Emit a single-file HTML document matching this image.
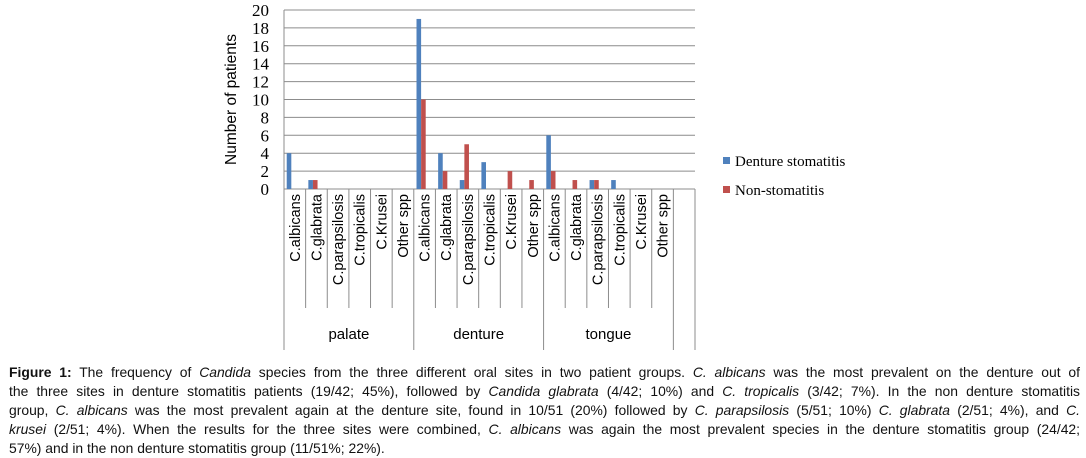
<!DOCTYPE html>
<html><head><meta charset="utf-8">
<style>
body{margin:0;width:1086px;height:458px;background:#fff;overflow:hidden;position:relative;font-family:"Liberation Sans",Arial,sans-serif}
#cap{position:absolute;left:9px;top:363px;width:1071px;font-size:13.9px;line-height:19px;color:#111}
#cap .l{text-align:justify;text-align-last:justify;white-space:nowrap}
#cap .l.last{text-align-last:left}
</style></head><body>
<svg width="1086" height="360" style="position:absolute;left:0;top:0" id="svg"></svg>
<div id="cap">
<div class="l"><b>Figure 1:</b> The frequency of <i>Candida</i> species from the three different oral sites in two patient groups. <i>C. albicans</i> was the most prevalent on the denture out of</div>
<div class="l">the three sites in denture stomatitis patients (19/42; 45%), followed by <i>Candida glabrata</i> (4/42; 10%) and <i>C. tropicalis</i> (3/42; 7%). In the non denture stomatitis</div>
<div class="l">group, <i>C. albicans</i> was the most prevalent again at the denture site, found in 10/51 (20%) followed by <i>C. parapsilosis</i> (5/51; 10%) <i>C. glabrata</i> (2/51; 4%), and <i>C.</i></div>
<div class="l"><i>krusei</i> (2/51; 4%). When the results for the three sites were combined, <i>C. albicans</i> was again the most prevalent species in the denture stomatitis group (24/42;</div>
<div class="l last">57%) and in the non denture stomatitis group (11/51%; 22%).</div>
</div>
<script>
const species=["C.albicans","C.glabrata","C.parapsilosis","C.tropicalis","C.Krusei","Other spp"];
const groups=["palate","denture","tongue"];
const dentureStomatitis=[4,1,0,0,0,0, 19,4,1,3,0,0, 6,0,1,1,0,0];
const nonStomatitis=[0,1,0,0,0,0, 10,2,5,0,2,1, 2,1,1,0,0,0];
const yTicks=[0,2,4,6,8,10,12,14,16,18,20];
const svg=document.getElementById('svg');const NS="http://www.w3.org/2000/svg";
function mk(t,a,p){const e=document.createElementNS(NS,t);for(const k in a)e.setAttribute(k,a[k]);(p||svg).appendChild(e);return e;}
const X0=284,X1=695,Y0=189,Y1=10,nSlots=19,sw=(X1-X0)/nSlots;
const y=v=>Y0-(v/20)*(Y0-Y1);
const xs=i=>X0+i*sw;
yTicks.forEach(t=>{
 const g=mk('line',{x1:X0,x2:X1,y1:y(t),y2:y(t),stroke:'#8c8c8c','stroke-width':1});
 
 const tx=mk('text',{x:X0-15,y:y(t)+6,'text-anchor':'end','font-size':'17','font-family':'"Liberation Serif",serif',fill:'#000'});
 tx.textContent=t;
 
});
const ax=mk('line',{x1:X0,x2:X0,y1:Y1,y2:Y0,stroke:'#8c8c8c'});

const yt=mk('text',{transform:`translate(236,${(Y0+Y1)/2}) rotate(-90)`,'text-anchor':'middle','font-size':'15.5',fill:'#000'});
yt.textContent='Number  of patients';

for(let i=0;i<=nSlots;i++){
 const big=(i%6===0)||i===nSlots;
 const l=mk('line',{x1:xs(i),x2:xs(i),y1:Y0,y2:big?350:308,stroke:'#8c8c8c'});
 
}
const cats=[];groups.forEach(g=>species.forEach(s=>cats.push(s)));
cats.forEach((c,i)=>{
 const cx=xs(i)+sw/2;
 const t=mk('text',{transform:`translate(${cx+5},194) rotate(-90)`,'text-anchor':'end','font-size':'14.5',fill:'#000'});
 t.textContent=c;
 
 const bw=4.6,pc=cx-3.5;
 if(dentureStomatitis[i]>0){const b=mk('rect',{x:pc-bw,y:y(dentureStomatitis[i]),width:bw,height:Y0-y(dentureStomatitis[i]),fill:'#4f81bd'});
 }
 if(nonStomatitis[i]>0){const b=mk('rect',{x:pc,y:y(nonStomatitis[i]),width:bw,height:Y0-y(nonStomatitis[i]),fill:'#c0504d'});
 }
});
groups.forEach((g,k)=>{
 const t=mk('text',{x:xs(k*6+3),y:339,'text-anchor':'middle','font-size':'15',fill:'#000'});
 t.textContent=g;
 
});
[['Denture stomatitis','#4f81bd',161],['Non-stomatitis','#c0504d',190]].forEach(([n,c,yy])=>{
 const r=mk('rect',{x:723,y:yy-4,width:7,height:7,fill:c});
 
 const t=mk('text',{x:735,y:yy+5,'font-size':'15','font-family':'"Liberation Serif",serif',fill:'#000'});
 t.textContent=n;
 
});
</script>
</body></html>
